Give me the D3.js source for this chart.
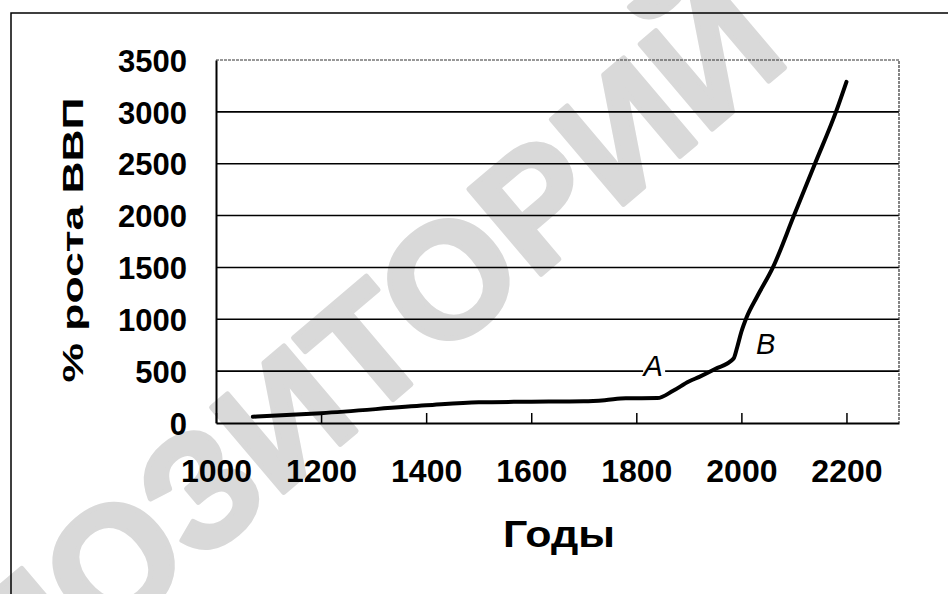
<!DOCTYPE html>
<html>
<head>
<meta charset="utf-8">
<script src="https://cdn.jsdelivr.net/npm/d3@7"></script>
<style>
  html, body { margin: 0; padding: 0; background: #fff; }
  svg { display: block; }
  text { font-family: "Liberation Sans", Arial, sans-serif; }
</style>
</head>
<body>
<svg id="chart" width="948" height="594"></svg>
<script>
"use strict";

// данные кривой (годы / % роста ВВП)
var years = [1070, 1200, 1400, 1500, 1600, 1700, 1740, 1780, 1840, 1870, 1900, 1920, 1950, 1985, 1992, 2000, 2010, 2030, 2060, 2100, 2140, 2180, 2200];
var growth = [60, 95, 170, 200, 205, 210, 220, 238, 240, 310, 400, 445, 520, 620, 730, 880, 1020, 1220, 1500, 2000, 2500, 3000, 3290];
var xTicks = [1000, 1200, 1400, 1600, 1800, 2000, 2200];
var yTicks = [0, 500, 1000, 1500, 2000, 2500, 3000, 3500];
var marks = ["A", "B"];
var markYears = [1832, 2046];
var markValues = [453, 665];

var svg = d3.select('#chart');

var x = d3.scaleLinear().domain([1000, 2300]).range([216, 899]);
var y = d3.scaleLinear().domain([0, 3500]).range([423, 60]);

// водяной знак
svg.append('text')
  .attr('transform', 'translate(284,418) rotate(-40.3)')
  .attr('text-anchor', 'middle')
  .attr('dominant-baseline', 'central')
  .attr('font-size', 162)
  .attr('font-weight', 'bold')
  .attr('fill', '#d9d9d9')
  .attr('stroke', '#d9d9d9')
  .attr('stroke-width', 5)
  .attr('stroke-linejoin', 'round')
  .text('РЕПОЗИТОРИЙ');

// внешняя рамка
svg.append('rect')
  .attr('x', 11).attr('y', 13)
  .attr('width', 960).attr('height', 620)
  .attr('fill', 'none')
  .attr('stroke', '#000')
  .attr('stroke-width', 1.5);

// сетка
svg.append('g')
  .selectAll('line')
  .data(yTicks.slice(1, -1))
  .enter().append('line')
  .attr('x1', x(1000)).attr('x2', x(2300))
  .attr('y1', function (d) { return y(d); })
  .attr('y2', function (d) { return y(d); })
  .attr('stroke', '#000')
  .attr('stroke-width', 1.6);

// верх и правый край области - пунктир
svg.append('path')
  .attr('d', 'M' + x(1000) + ',' + y(3500) + 'H' + x(2300) + 'V' + y(0))
  .attr('fill', 'none')
  .attr('stroke', '#333')
  .attr('stroke-width', 1.2)
  .attr('stroke-dasharray', '3,1');

// оси
var xAxis = d3.axisBottom(x).tickValues(xTicks).tickSize(-10).tickSizeOuter(0).tickFormat(d3.format('d'));
var gx = svg.append('g').attr('transform', 'translate(0,' + y(0) + ')').call(xAxis);
gx.select('.domain').attr('stroke', '#000').attr('stroke-width', 2);
gx.selectAll('.tick line').attr('stroke', '#000').attr('stroke-width', 1.5);
gx.selectAll('.tick text')
  .attr('y', 59)
  .attr('dy', 0)
  .attr('font-size', 32)
  .attr('font-weight', 'bold')
  .attr('font-family', '"Liberation Sans", Arial, sans-serif')
  .attr('fill', '#000');

var yAxis = d3.axisLeft(y).tickValues(yTicks).tickSize(0).tickPadding(29).tickFormat(d3.format('d'));
var gy = svg.append('g').attr('transform', 'translate(' + x(1000) + ',0)').call(yAxis);
gy.select('.domain').attr('stroke', '#000').attr('stroke-width', 2);
gy.selectAll('.tick text')
  .attr('dy', '0.36em')
  .attr('font-size', 31)
  .attr('font-weight', 'bold')
  .attr('font-family', '"Liberation Sans", Arial, sans-serif')
  .attr('fill', '#000');

// подписи A и B (белый фон под A рвёт линию сетки)
marks.forEach(function (m, i) {
  var px = x(markYears[i]);
  var py = y(markValues[i]);
  if (m === 'A') {
    svg.append('rect')
      .attr('x', px - 10).attr('y', py - 12)
      .attr('width', 22).attr('height', 10)
      .attr('fill', '#fff');
  }
  svg.append('text')
    .attr('x', px).attr('y', py)
    .attr('text-anchor', 'middle')
    .attr('font-size', 29)
    .attr('font-style', 'italic')
    .attr('fill', '#000')
    .text(m);
});

// кривая
var line = d3.line()
  .x(function (d, i) { return x(years[i]); })
  .y(function (d) { return y(d); })
  .curve(d3.curveMonotoneX);

svg.append('path')
  .datum(growth)
  .attr('d', line)
  .attr('fill', 'none')
  .attr('stroke', '#000')
  .attr('stroke-width', 4)
  .attr('stroke-linejoin', 'round')
  .attr('stroke-linecap', 'round');

// подписи осей
svg.append('text')
  .attr('transform', 'translate(83,240) rotate(-90)')
  .attr('text-anchor', 'middle')
  .attr('font-size', 30)
  .attr('font-weight', 'bold')
  .attr('textLength', 285)
  .attr('lengthAdjust', 'spacingAndGlyphs')
  .attr('fill', '#000')
  .text('% роста ВВП');

svg.append('text')
  .attr('x', 559).attr('y', 547)
  .attr('text-anchor', 'middle')
  .attr('font-size', 37)
  .attr('font-weight', 'bold')
  .attr('textLength', 112)
  .attr('lengthAdjust', 'spacingAndGlyphs')
  .attr('fill', '#000')
  .text('Годы');
</script>
</body>
</html>
